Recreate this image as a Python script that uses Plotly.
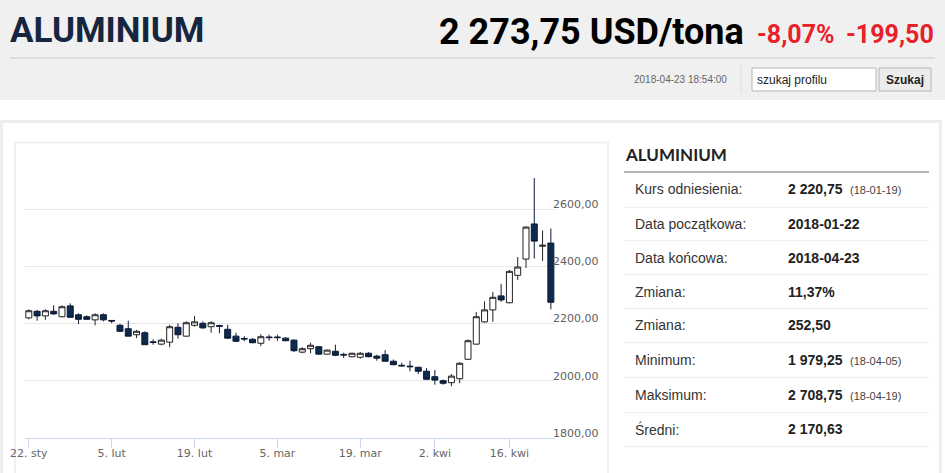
import plotly.graph_objects as go

# trading days shown on the chart (LME, Good Friday and Easter Monday closed)
dates = [
    "2018-01-22", "2018-01-23", "2018-01-24", "2018-01-25", "2018-01-26",
    "2018-01-29", "2018-01-30", "2018-01-31", "2018-02-01", "2018-02-02",
    "2018-02-05", "2018-02-06", "2018-02-07", "2018-02-08", "2018-02-09",
    "2018-02-12", "2018-02-13", "2018-02-14", "2018-02-15", "2018-02-16",
    "2018-02-19", "2018-02-20", "2018-02-21", "2018-02-22", "2018-02-23",
    "2018-02-26", "2018-02-27", "2018-02-28", "2018-03-01", "2018-03-02",
    "2018-03-05", "2018-03-06", "2018-03-07", "2018-03-08", "2018-03-09",
    "2018-03-12", "2018-03-13", "2018-03-14", "2018-03-15", "2018-03-16",
    "2018-03-19", "2018-03-20", "2018-03-21", "2018-03-22", "2018-03-23",
    "2018-03-26", "2018-03-27", "2018-03-28", "2018-03-29",
    "2018-04-03", "2018-04-04", "2018-04-05", "2018-04-06",
    "2018-04-09", "2018-04-10", "2018-04-11", "2018-04-12", "2018-04-13",
    "2018-04-16", "2018-04-17", "2018-04-18", "2018-04-19", "2018-04-20",
    "2018-04-23",
]
opens = [2219, 2242, 2226, 2242, 2223, 2261, 2230, 2223, 2212, 2230,
         2210, 2193, 2181, 2160, 2167, 2135, 2127, 2134, 2186, 2155,
         2193, 2200, 2188, 2192, 2179, 2155, 2147, 2144, 2130, 2152,
         2152, 2148, 2141, 2099, 2111, 2118, 2092, 2102, 2091, 2083,
         2081, 2095, 2085, 2090, 2067, 2053, 2050, 2046, 2032,
         2013, 1999, 1992, 2006, 2074, 2127, 2205, 2247, 2296,
         2272, 2368, 2425, 2548, 2470, 2481]
highs = [2249, 2247, 2249, 2263, 2263, 2270, 2235, 2228, 2235, 2235,
         2211, 2198, 2209, 2177, 2172, 2144, 2146, 2195, 2200, 2207,
         2226, 2207, 2207, 2195, 2195, 2167, 2155, 2148, 2162, 2160,
         2160, 2151, 2144, 2116, 2132, 2120, 2108, 2125, 2097, 2097,
         2099, 2099, 2090, 2106, 2073, 2062, 2069, 2048, 2043,
         2036, 2003, 2022, 2064, 2144, 2240, 2277, 2310, 2338,
         2387, 2432, 2539, 2708.75, 2525, 2532]
lows = [2214, 2209, 2212, 2230, 2221, 2219, 2198, 2212, 2193, 2207,
        2200, 2169, 2155, 2148, 2124, 2125, 2123, 2116, 2146, 2153,
        2188, 2181, 2167, 2165, 2146, 2134, 2137, 2130, 2120, 2139,
        2139, 2137, 2099, 2095, 2095, 2091, 2090, 2085, 2078, 2081,
        2076, 2081, 2069, 2067, 2053, 2048, 2032, 2022, 2001,
        1985, 1985, 1979.25, 1990, 2071, 2125, 2202, 2205, 2275,
        2270, 2352, 2394, 2427, 2418, 2249]
closes = [2244, 2226, 2244, 2233, 2258, 2221, 2214, 2214, 2230, 2212,
          2208, 2172, 2155, 2172, 2125, 2133, 2141, 2188, 2160, 2202,
          2205, 2184, 2202, 2190, 2148, 2137, 2145, 2132, 2153, 2150,
          2150, 2139, 2104, 2111, 2123, 2092, 2106, 2088, 2089, 2095,
          2095, 2083, 2078, 2067, 2055, 2051, 2048, 2032, 2004,
          2001, 1990, 2015, 2060, 2139, 2223, 2247, 2291, 2282,
          2382, 2397, 2537, 2488, 2473.25, 2273.75]

tick_dates = ["2018-01-22", "2018-02-05", "2018-02-19", "2018-03-05",
              "2018-03-19", "2018-04-03", "2018-04-16"]
tick_labels = ["22. sty", "5. lut", "19. lut", "5. mar", "19. mar", "2. kwi", "16. kwi"]
price_ticks = [1800, 2000, 2200, 2400, 2600, 2800]
price_labels = ["1800,00", "2000,00", "2200,00", "2400,00", "2600,00", ""]

row_labels = ["Kurs odniesienia:", "Data początkowa:", "Data końcowa:", "Zmiana:",
              "Zmiana:", "Minimum:", "Maksimum:", "Średni:"]
row_values = ["2 220,75", "2018-01-22", "2018-04-23", "11,37%",
              "252,50", "1 979,25", "2 708,75", "2 170,63"]
row_notes = ["(18-01-19)", "", "", "", "", "(18-04-05)", "(18-04-19)", ""]

W, H = 945, 473


def px(x):
    return x / W


def py(y):
    return 1 - y / H


fig = go.Figure(go.Candlestick(
    x=dates, open=opens, high=highs, low=lows, close=closes,
    increasing=dict(line=dict(color="#222222", width=1), fillcolor="#ffffff"),
    decreasing=dict(line=dict(color="#0b1b36", width=1), fillcolor="#0f2a4f"),
    whiskerwidth=0, hoverinfo="skip",
))

shapes = []


def rect(x0, y0, x1, y1, fill=None, line=None, lw=1, layer="below"):
    shapes.append(dict(type="rect", xref="paper", yref="paper",
                       x0=px(x0), x1=px(x1), y0=py(y0), y1=py(y1),
                       fillcolor=fill or "rgba(0,0,0,0)",
                       line=dict(color=line or "rgba(0,0,0,0)", width=lw if line else 0),
                       layer=layer))


def hline(x0, x1, y, color, lw=1):
    shapes.append(dict(type="line", xref="paper", yref="paper",
                       x0=px(x0), x1=px(x1), y0=py(y), y1=py(y),
                       line=dict(color=color, width=lw), layer="below"))


def vline(x, y0, y1, color, lw=1):
    shapes.append(dict(type="line", xref="paper", yref="paper",
                       x0=px(x), x1=px(x), y0=py(y0), y1=py(y1),
                       line=dict(color=color, width=lw), layer="below"))


# header band
rect(0, 0, W, 100, fill="#f0f0f0")
hline(10, 935, 58, "#cccccc")
vline(741, 64, 94, "#dddddd")
rect(752, 68, 876, 91, fill="#ffffff", line="#b5b5b5")
rect(879, 68, 931, 91, fill="#ececec", line="#b5b5b5")

# page containers
rect(1.5, 121.5, 940.5, 490, line="#eeeeee", lw=3)
rect(15, 142.5, 608, 490, line="#f0f0f0", lw=2)

# info table lines
hline(624, 929, 172, "#9a9a9a", 1.5)
for y in [207.3, 240.7, 274.7, 308.5, 342.7, 377.3, 412.7, 446.7]:
    hline(624, 929, y, "#eeeeee")

ann = []


def text(x, y, s, size, color, font="Liberation Sans", anchor="left"):
    ann.append(dict(x=px(x), y=py(y), xref="paper", yref="paper", text=s,
                    showarrow=False, xanchor=anchor, yanchor="middle",
                    font=dict(family=font, size=size, color=color)))


text(8, 31, "<b>ALUMINIUM</b>", 35, "#16263f", font="Roboto")
text(746, 32, "<b>2 273,75 USD/tona</b>", 36, "#000000", font="Roboto", anchor="right")
text(837, 34, "<b>-8,07%</b>", 25, "#e8202a", font="Roboto", anchor="right")
text(936, 34, "<b>-199,50</b>", 25, "#e8202a", font="Roboto", anchor="right")
text(729, 79, "2018-04-23 18:54:00", 10, "#666666", anchor="right")
text(755, 79.5, "szukaj profilu", 12, "#222222")
text(905, 79.5, "<b>Szukaj</b>", 12, "#222222", anchor="center")

text(623, 155, "<b>ALUMINIUM</b>", 17, "#222222", font="Lato")
row_y = [189, 224, 257.5, 291.7, 325, 360, 395, 429.3]
for lab, val, note, y in zip(row_labels, row_values, row_notes, row_y):
    text(633, y, lab, 14, "#333333")
    text(786, y, "<b>" + val + "</b>", 14, "#222222")
    if note:
        text(848, y + 1, note, 11, "#444444")

fig.update_layout(
    width=W, height=H,
    margin=dict(l=0, r=0, t=0, b=0, pad=0, autoexpand=False),
    paper_bgcolor="#ffffff", plot_bgcolor="rgba(0,0,0,0)",
    showlegend=False, boxgap=0.15, boxgroupgap=0.15,
    shapes=shapes, annotations=ann,
    xaxis=dict(
        type="category", domain=[px(25), px(555)], range=[-0.46, 63.5],
        rangeslider=dict(visible=False), showgrid=False, automargin=False,
        showline=True, linecolor="#ccd6eb", linewidth=1,
        ticks="outside", ticklen=9, tickcolor="#ccd6eb",
        tickvals=tick_dates, ticktext=tick_labels, ticklabelstandoff=-4,
        tickfont=dict(family="DejaVu Sans", size=11, color="#666666"),
    ),
    yaxis=dict(
        domain=[py(437.5), py(152)], range=[1800, 2800], side="right",
        tickvals=price_ticks, ticktext=price_labels, automargin=False,
        ticklabelposition="outside top", ticklabelshift=3, ticklabelstandoff=-3,
        showgrid=True, gridcolor="#e6e6e6", gridwidth=1, zeroline=False,
        tickfont=dict(family="DejaVu Sans", size=11, color="#606060"),
    ),
)

fig.write_html("out.html", config={"displayModeBar": False},
               post_script="document.body.style.margin='0';"
                           "document.body.style.overflow='hidden';")
